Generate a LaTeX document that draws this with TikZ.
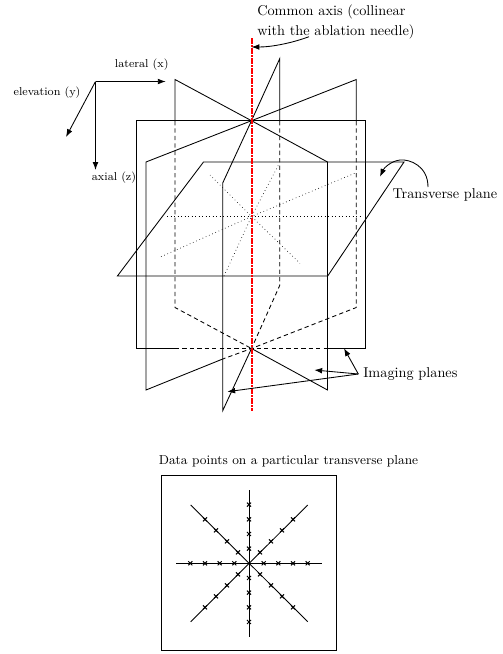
\documentclass[tikz,border=0pt]{standalone}
\usetikzlibrary{arrows.meta,positioning}
\tikzset{
  plane/.style={line width=0.6pt,line join=miter},
  hidden/.style={plane,dash pattern=on 3pt off 2.2pt},
  slice/.style={line width=0.45pt,dotted},
  needleline/.style={color=red,line width=1.4pt,dash pattern=on 4pt off 1pt on 1pt off 1pt},
  pointer/.style={line width=0.6pt,-{Latex[length=5.5pt,width=4pt]}},
  datamark/.style={line width=0.7pt},
  caption/.style={font=\fontsize{10}{14}\selectfont,inner sep=0pt,align=left},
  axisname/.style={font=\footnotesize,inner sep=0pt},
}
\begin{document}
\begin{tikzpicture}[x=0.7pt,y=-0.7pt]
  \useasboundingbox (0,0) rectangle (503,654);
  \coordinate (upper) at (251.5,120.7);
  \coordinate (lower) at (251.5,348.5);
  \coordinate (middle) at (251.5,216.5);
  % axes
  \coordinate (origin) at (95.5,81.5);
  \coordinate (lateral) at (165.7,81.5);
  \coordinate (axial) at (95.5,170);
  \coordinate (elevation) at (66,137);
  \draw[pointer] (origin) -- (lateral);
  \draw[pointer] (origin) -- (axial);
  \draw[pointer] (origin) -- (elevation);
  \node[axisname] (lateralname) at (141.7,64.5) {lateral (x)};
  \node[axisname] (elevationname) at (47,92.5) {elevation (y)};
  \node[axisname] (axialname) at (114,177.5) {axial (z)};
  % square imaging plane
  \draw[plane] (175,348.5) -- (136.7,348.5) -- (136.7,120.7) -- (365.7,120.7) -- (365.7,348.5) -- (327.7,348.5);
  \draw[hidden] (175,348.5) -- (327.7,348.5);
  % oblique imaging planes
  \draw[plane] (175,121) -- (175,79.5) -- (upper) -- (327.5,162) -- (327.5,390) -- (lower);
  \draw[hidden] (175,121) -- (175,307.5) -- (lower);
  \draw[plane] (356.3,121) -- (356.3,79.5) -- (upper) -- (146,162) -- (146,390) -- (222.7,359);
  \draw[hidden] (356.3,121) -- (356.3,307.5) -- (lower) -- (222.7,359);
  \draw[plane] (279.7,121) -- (279.7,58.7) -- (upper) -- (222.7,183) -- (222.7,410.7) -- (lower);
  \draw[hidden] (279.7,121) -- (279.7,285.5) -- (lower);
  % transverse plane
  \draw[plane] (117.4,276) -- (327.7,276) -- (404,162) -- (203.5,162) -- cycle;
  \draw[slice] (167,216.5) -- (middle) -- (360,216.5);
  \draw[slice] (210,175) -- (middle) -- (300,263.3);
  \draw[slice] (161,256.7) -- (middle) -- (356,172.7);
  \draw[slice] (224,276) -- (middle) -- (279.5,163);
  % needle
  \draw[needleline] (251.5,38) -- (251.5,411);
  % labels
  \node[caption,anchor=north west] (axisname) at (257,4) {Common axis (collinear\\with the ablation needle)};
  \coordinate (axisfoot) at (309,36.7);
  \coordinate (axistip) at (251.5,47);
  \draw[pointer] (axisfoot) .. controls (292,43) and (272,47) .. (axistip);
  \node[caption,anchor=west] (transversename) at (392.3,195) {Transverse plane};
  \coordinate (transversefoot) at (428,187);
  \coordinate (transversetip) at (380,176.7);
  \draw[pointer] (transversefoot) .. controls (428,166) and (410,159) .. (400,160) .. controls (391,161) and (384,168) .. (transversetip);
  \node[caption,anchor=west,inner sep=3.3pt] (imagingname) at (358.3,374) {Imaging planes};
  \coordinate (imagingtipa) at (344,348.3);
  \coordinate (imagingtipb) at (314.3,370);
  \coordinate (imagingtipc) at (227.3,391.7);
  \draw[pointer] (imagingname.west) -- (imagingtipa);
  \draw[pointer] (imagingname.west) -- (imagingtipb);
  \draw[pointer] (imagingname.west) -- (imagingtipc);
  % data points
  \node[caption,font=\fontsize{9.1}{11}\selectfont] (dataname) at (288.5,461.5) {Data points on a particular transverse plane};
  \draw[plane] (161,475.7) rectangle (336.7,650.7);
  \coordinate (hub) at (249,563.3);
  \draw[plane] (176,563.3) -- (322,563.3);
  \draw[plane] (249,490) -- (249,636.7);
  \draw[plane] (190.7,505) -- (307.7,621.7);
  \draw[plane] (190.7,621.7) -- (307.7,505);
  \foreach \r in {1,2,3,4} {
    \foreach \dx/\dy in {14.67/0,-14.67/0,0/14.67,0/-14.67,11/11,-11/11,11/-11,-11/-11}
      \draw[datamark] ([shift={(\r*\dx,\r*\dy)}]hub) +(-2,-2) -- +(2,2) +(-2,2) -- +(2,-2);
  }
\end{tikzpicture}
\end{document}
